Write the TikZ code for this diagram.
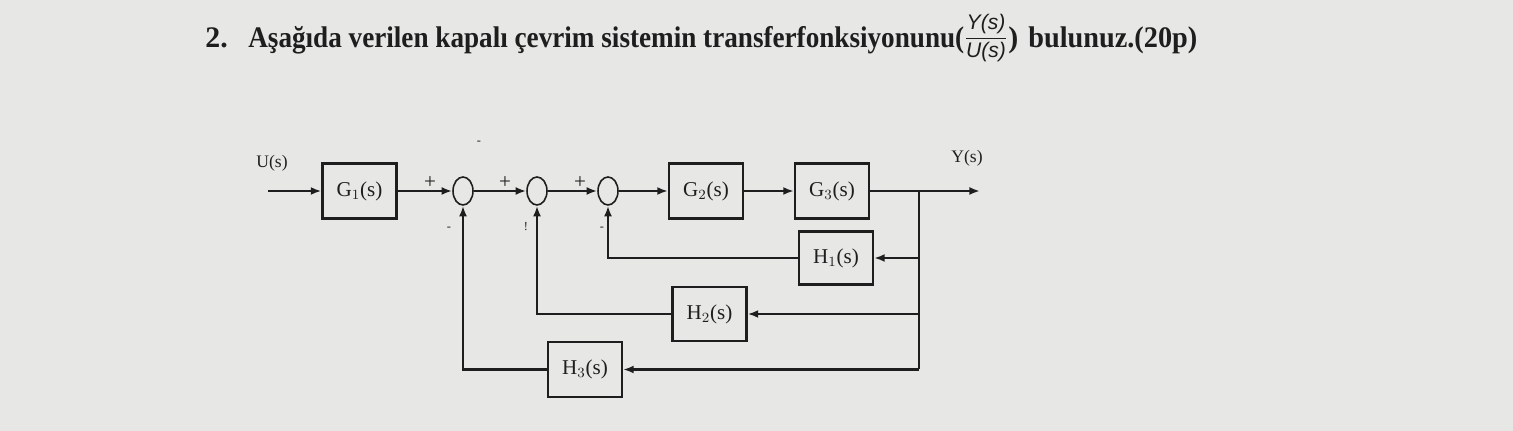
\documentclass[tikz,border=0pt]{standalone}
\usepackage{fontspec}
\setmainfont{Liberation Serif}
\setsansfont{Liberation Sans}
\usetikzlibrary{shapes.geometric,arrows.meta}
\definecolor{paper}{RGB}{231,232,229}
\definecolor{ink}{RGB}{30,30,30}
\begin{document}
\begin{tikzpicture}[x=0.02cm,y=-0.02cm,
  blk/.style={draw=ink,line width=1.3pt,minimum width=1.48cm,minimum height=1.1cm,inner sep=0pt,font=\fontsize{12}{14}\selectfont,text=ink},
  sumj/.style={draw=ink,line width=0.9pt,ellipse,minimum width=0.4cm,minimum height=0.56cm,inner sep=0pt},
  wire/.style={draw=ink,line width=1.2pt},
  arr/.style={wire,-{Latex[length=6pt,width=4.5pt]}},
  lbl/.style={font=\fontsize{12}{14}\selectfont,text=ink,inner sep=0pt},
  tiny/.style={font=\fontsize{7}{8}\selectfont,text=ink,inner sep=0pt},
  ttl/.style={anchor=base west,inner sep=0pt,text=ink,font=\bfseries\fontsize{17}{20}\selectfont}]
\fill[paper] (0,0) rectangle (1513,431);
\useasboundingbox (0,0) rectangle (1513,431);
% title
\node[ttl] (t0) at (205,48) {2.};
\node[ttl] (t1) at (248,48) {\resizebox{14.32cm}{\height}{Aşağıda verilen kapalı çevrim sistemin transferfonksiyonunu(}};
\node[inner sep=0pt,text=ink,font=\sffamily\itshape\fontsize{12}{14}\selectfont] (t2) at (986,38) {$\displaystyle\frac{\mbox{Y(s)}}{\mbox{U(s)}}$};
\node[ttl] (t3) at (1008,48) {)};
\node[ttl] (t4) at (1028,48) {\resizebox{3.38cm}{\height}{bulunuz.(20p)}};
% blocks
\node[blk] (G1) at (359.5,191) {G$_1$(s)};
\node[sumj] (S1) at (463,191) {};
\node[sumj] (S2) at (537,191) {};
\node[sumj] (S3) at (608,191) {};
\node[blk] (G2) at (706,191) {G$_2$(s)};
\node[blk] (G3) at (832,191) {G$_3$(s)};
\node[blk,minimum height=1.06cm] (H1) at (836,258) {H$_1$(s)};
\node[blk,minimum height=1.08cm] (H2) at (709.5,314) {H$_2$(s)};
\node[blk] (H3) at (585,369.5) {H$_3$(s)};
\coordinate (in) at (268,191);
\coordinate (b) at (919,191);
\coordinate (out) at (980,191);
% labels
\node[lbl,font=\fontsize{10}{12}\selectfont] (U) at (272,163) {U(s)};
\node[lbl,font=\fontsize{10}{12}\selectfont] (Y) at (967,158) {Y(s)};
\node[lbl] (p1) at (430,183) {+};
\node[lbl] (p2) at (505,183) {+};
\node[lbl] (p3) at (580,183) {+};
\node[tiny] (m1) at (449,229) {-};
\node[tiny] (m2) at (526,227) {!};
\node[tiny] (m3) at (602,229) {-};
\node[tiny] (m0) at (479,143) {-};
% forward path
\draw[arr] (in) -- (G1.west);
\draw[arr] (G1.east) -- (S1.west);
\draw[arr] (S1.east) -- (S2.west);
\draw[arr] (S2.east) -- (S3.west);
\draw[arr] (S3.east) -- (G2.west);
\draw[arr] (G2.east) -- (G3.west);
\draw[arr] (G3.east) -- (out);
% feedback
\draw[wire] (b) -- (b |- H3);
\draw[arr] (b |- H1) -- (H1.east);
\draw[arr] (b |- H2) -- (H2.east);
\draw[arr] (b |- H3) -- (H3.east);
\draw[arr] (H1.west) -- (S3 |- H1) -- (S3.south);
\draw[arr] (H2.west) -- (S2 |- H2) -- (S2.south);
\draw[arr] (H3.west) -- (S1 |- H3) -- (S1.south);
\end{tikzpicture}
\end{document}
